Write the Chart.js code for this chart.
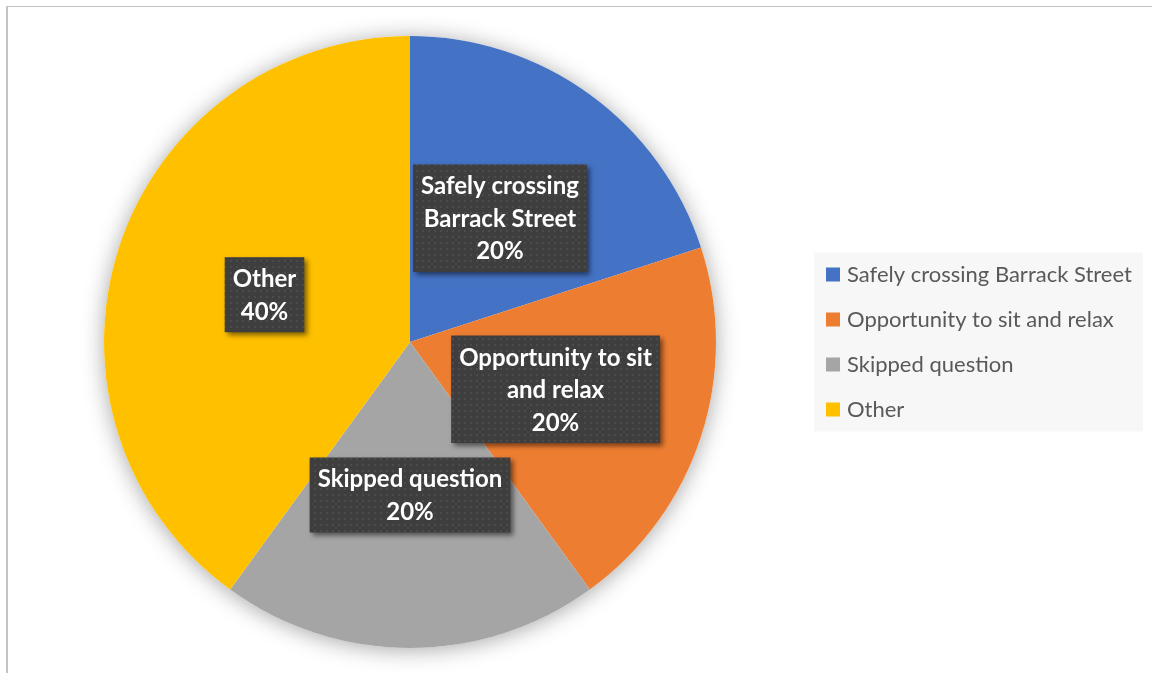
<!DOCTYPE html>
<html>
<head>
<meta charset="utf-8">
<script src="https://cdn.jsdelivr.net/npm/chart.js@4.4.1/dist/chart.umd.min.js"></script>
<style>
  html, body { margin: 0; padding: 0; background: #fff; overflow: hidden; }
  #frame { position: absolute; left: 6px; top: 6px; width: 1200px; height: 700px; border-left: 2px solid #c4c4c4; border-top: 1px solid #c4c4c4; }
  #chart { position: absolute; left: 0; top: 0; }
</style>
</head>
<body>
<div id="frame"></div>
<canvas id="chart" width="1152" height="673"></canvas>
<script>
const categories = ['Safely crossing Barrack Street', 'Opportunity to sit and relax', 'Skipped question', 'Other'];
const values = [20, 20, 20, 40];
const colors = ['#4472C4', '#ED7D31', '#A5A5A5', '#FFC000'];

const legendWidth = 345;

function makePattern(ctx) {
    let p = document.createElement('canvas');
    p.width = 6;
    p.height = 6;
    let pc = p.getContext('2d');
    pc.fillStyle = '#3e3e3e';
    pc.fillRect(0, 0, 6, 6);
    pc.fillStyle = '#4b4b4b';
    pc.fillRect(2, 2, 2, 2);
    return ctx.createPattern(p, 'repeat');
}

function wrapText(ctx, text, maxWidth) {
    let lines = [];
    let line = '';
    text.split(' ').forEach(word => {
        let test = line ? line + ' ' + word : word;
        if (line && ctx.measureText(test).width > maxWidth) {
            lines.push(line);
            line = word;
        } else {
            line = test;
        }
    });
    lines.push(line);
    return lines;
}

// keep the legend box a fixed width so the pie sits where it should
const legendFit = {
    id: 'legendFit',
    beforeInit(chart) {
        const fit = chart.legend.fit;
        chart.legend.fit = function () {
            fit.call(this);
            this.width = legendWidth;
        };
    }
};

const legendBackground = {
    id: 'legendBackground',
    beforeDraw(chart) {
        const boxes = chart.legend.legendHitBoxes;
        if (!boxes || !boxes.length) return;
        const ctx = chart.ctx;
        const first = boxes[0];
        const last = boxes[boxes.length - 1];
        const right = Math.max(...boxes.map(b => b.left + b.width));
        ctx.save();
        ctx.fillStyle = '#f7f7f7';
        ctx.fillRect(first.left - 16, first.top - 11, right - first.left + 27, last.top + last.height - first.top + 22);
        ctx.restore();
    }
};

const pieShadow = {
    id: 'pieShadow',
    beforeDatasetsDraw(chart) {
        const arc = chart.getDatasetMeta(0).data[0];
        if (!arc) return;
        const ctx = chart.ctx;
        ctx.save();
        ctx.shadowColor = 'rgba(0, 0, 0, 0.35)';
        ctx.shadowBlur = 22;
        ctx.shadowOffsetY = 2;
        ctx.fillStyle = '#fff';
        ctx.beginPath();
        ctx.arc(arc.x, arc.y, arc.outerRadius, 0, Math.PI * 2);
        ctx.fill();
        ctx.restore();
    }
};

const dataLabels = {
    id: 'dataLabels',
    afterDatasetsDraw(chart) {
        const ctx = chart.ctx;
        const meta = chart.getDatasetMeta(0);
        const total = values.reduce((a, b) => a + b, 0);
        const pattern = makePattern(ctx);
        const lh = 32.5;
        ctx.save();
        ctx.font = 'bold 24px Lato';
        meta.data.forEach((arc, i) => {
            const pos = arc.tooltipPosition();
            let lines = wrapText(ctx, categories[i], 215);
            lines.push(Math.round(values[i] / total * 100) + '%');
            const w = Math.max(...lines.map(l => ctx.measureText(l).width)) + 16;
            const h = lines.length * lh + 10;
            const x = pos.x - w / 2;
            const y = pos.y - h / 2;

            ctx.save();
            ctx.shadowColor = 'rgba(0, 0, 0, 0.5)';
            ctx.shadowBlur = 5;
            ctx.shadowOffsetX = 3;
            ctx.shadowOffsetY = 3;
            ctx.fillStyle = pattern;
            ctx.fillRect(x, y, w, h);
            ctx.restore();

            ctx.fillStyle = '#ffffff';
            ctx.textAlign = 'center';
            ctx.textBaseline = 'middle';
            lines.forEach((l, k) => ctx.fillText(l, pos.x, y + 6 + lh * (k + 0.5)));
        });
        ctx.restore();
    }
};

let ctx = document.getElementById('chart');
let myChart = new Chart(ctx, {
    type: 'pie',
    data: {
        labels: categories,
        datasets: [{
            data: values,
            backgroundColor: colors,
            borderWidth: 0,
            hoverOffset: 0
        }]
    },
    options: {
        responsive: false,
        animation: false,
        events: [],
        layout: {
            padding: { left: 13, top: 36, bottom: 25, right: 0 }
        },
        plugins: {
            tooltip: { enabled: false },
            legend: {
                position: 'right',
                labels: {
                    padding: 23,
                    boxWidth: 6,
                    boxHeight: 6,
                    color: '#595959',
                    font: { family: 'Lato', size: 22 },
                    generateLabels: chart => categories.map((c, i) => ({
                        text: c,
                        fillStyle: colors[i],
                        strokeStyle: colors[i],
                        lineWidth: 8,
                        fontColor: '#595959',
                        hidden: false,
                        index: i
                    }))
                }
            }
        }
    },
    plugins: [legendFit, legendBackground, pieShadow, dataLabels]
});
</script>
</body>
</html>
